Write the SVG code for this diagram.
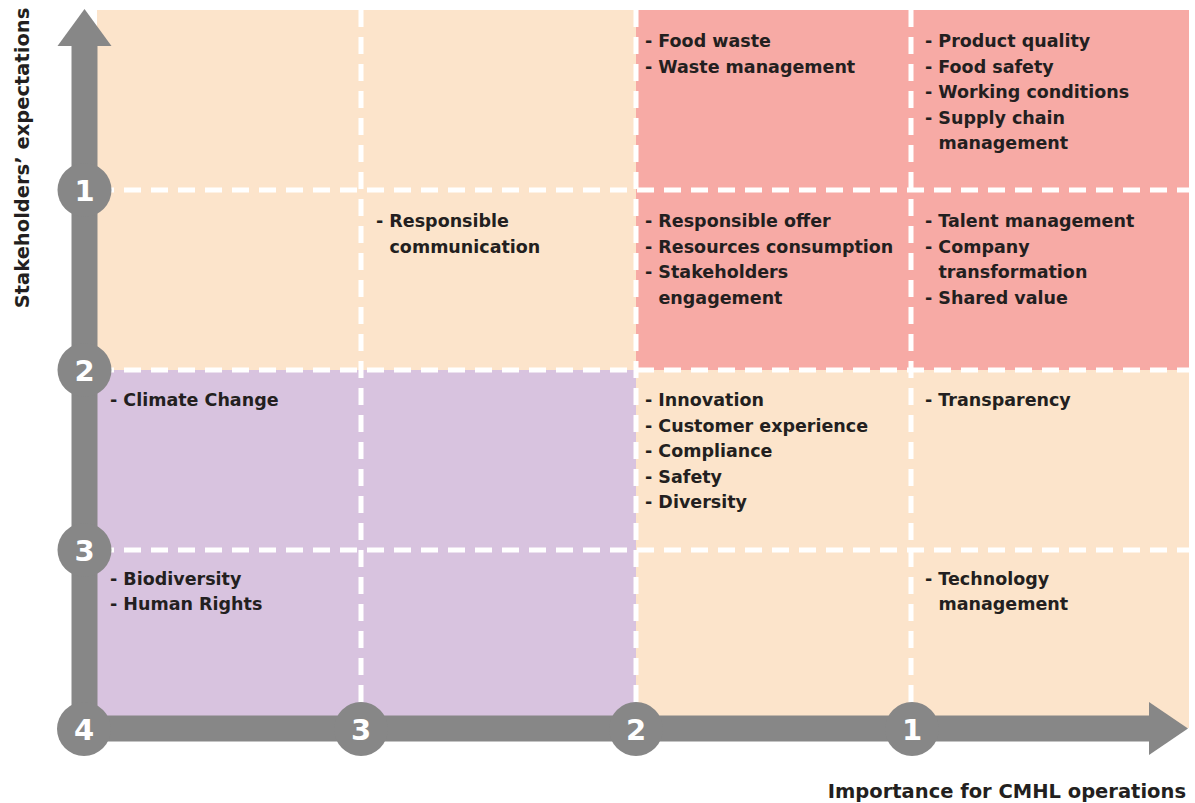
<svg xmlns="http://www.w3.org/2000/svg" width="1195" height="803" viewBox="0 0 1195 803">
<style>
.peach{fill:#FCE4CB}
.pink{fill:#F7AAA5}
.purple{fill:#D8C3DF}
.grid{stroke:#FFFFFF;stroke-width:5;stroke-dasharray:17 10;fill:none}
.axis{fill:#878787}
.num{font-family:"DejaVu Sans","Liberation Sans",sans-serif;font-weight:bold;font-size:29px;fill:#FFFFFF;text-anchor:middle}
.t{font-family:"DejaVu Sans","Liberation Sans",sans-serif;font-weight:bold;font-size:17.5px;fill:#231F20}
.lab{font-family:"DejaVu Sans","Liberation Sans",sans-serif;font-weight:bold;font-size:19.5px;fill:#231F20}
</style>
<rect width="1195" height="803" fill="#FFFFFF"/>
<g id="cells">
<rect class="peach" x="97" y="10" width="1092" height="718"/>
<rect class="pink" x="636" y="10" width="553" height="360"/>
<rect class="purple" x="97" y="370" width="539" height="358"/>
</g>
<g id="grid">
<line class="grid" x1="97" y1="190" x2="1189" y2="190"/>
<line class="grid" x1="97" y1="370" x2="1189" y2="370"/>
<line class="grid" x1="97" y1="550" x2="1189" y2="550"/>
<line class="grid" x1="361" y1="10" x2="361" y2="715"/>
<line class="grid" x1="636" y1="10" x2="636" y2="715"/>
<line class="grid" x1="911" y1="10" x2="911" y2="715"/>
</g>
<g id="connectors">
<rect class="axis" x="71.5" y="44" width="26" height="686"/>
<polygon class="axis" points="84.5,9 111.5,46 57.5,46"/>
<rect class="axis" x="83" y="715.5" width="1068" height="26"/>
<polygon class="axis" points="1188,728.5 1149,702 1149,755"/>
</g>
<g id="ticks">
<g id="tick-y1"><circle class="axis" cx="84.5" cy="190" r="27"/><text class="num" x="84.5" y="200.5">1</text></g>
<g id="tick-y2"><circle class="axis" cx="84.5" cy="370" r="27"/><text class="num" x="84.5" y="380.5">2</text></g>
<g id="tick-y3"><circle class="axis" cx="84.5" cy="550" r="27"/><text class="num" x="84.5" y="560.5">3</text></g>
<g id="tick-4"><circle class="axis" cx="84" cy="729" r="27"/><text class="num" x="84" y="739.5">4</text></g>
<g id="tick-x3"><circle class="axis" cx="361" cy="729" r="27"/><text class="num" x="361" y="739.5">3</text></g>
<g id="tick-x2"><circle class="axis" cx="636" cy="729" r="27"/><text class="num" x="636" y="739.5">2</text></g>
<g id="tick-x1"><circle class="axis" cx="912" cy="729" r="27"/><text class="num" x="912" y="739.5">1</text></g>
</g>
<g id="cell-r1c3">
<text class="t" x="645" y="47">- Food waste</text>
<text class="t" x="645" y="72.5">- Waste management</text>
</g>
<g id="cell-r1c4">
<text class="t" x="925" y="47">- Product quality</text>
<text class="t" x="925" y="72.5">- Food safety</text>
<text class="t" x="925" y="98">- Working conditions</text>
<text class="t" x="925" y="123.5">- Supply chain</text>
<text class="t" x="938.5" y="149">management</text>
</g>
<g id="cell-r2c2">
<text class="t" x="376" y="227">- Responsible</text>
<text class="t" x="389.5" y="252.5">communication</text>
</g>
<g id="cell-r2c3">
<text class="t" x="645" y="227">- Responsible offer</text>
<text class="t" x="645" y="252.5">- Resources consumption</text>
<text class="t" x="645" y="278">- Stakeholders</text>
<text class="t" x="658.5" y="303.5">engagement</text>
</g>
<g id="cell-r2c4">
<text class="t" x="925" y="227">- Talent management</text>
<text class="t" x="925" y="252.5">- Company</text>
<text class="t" x="938.5" y="278">transformation</text>
<text class="t" x="925" y="303.5">- Shared value</text>
</g>
<g id="cell-r3c1">
<text class="t" x="110" y="406">- Climate Change</text>
</g>
<g id="cell-r3c3">
<text class="t" x="645" y="406">- Innovation</text>
<text class="t" x="645" y="431.5">- Customer experience</text>
<text class="t" x="645" y="457">- Compliance</text>
<text class="t" x="645" y="482.5">- Safety</text>
<text class="t" x="645" y="508">- Diversity</text>
</g>
<g id="cell-r3c4">
<text class="t" x="925" y="406">- Transparency</text>
</g>
<g id="cell-r4c1">
<text class="t" x="110" y="584.5">- Biodiversity</text>
<text class="t" x="110" y="610">- Human Rights</text>
</g>
<g id="cell-r4c4">
<text class="t" x="925" y="584.5">- Technology</text>
<text class="t" x="938.5" y="610">management</text>
</g>
<g id="axis-labels">
<text class="lab" x="1186" y="798" text-anchor="end">Importance for CMHL operations</text>
<text class="lab" transform="translate(29,158) rotate(-90)" text-anchor="middle">Stakeholders’ expectations</text>
</g>
</svg>
